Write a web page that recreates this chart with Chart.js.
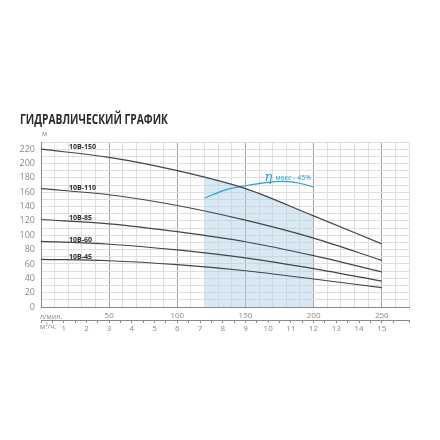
<!DOCTYPE html>
<html>
<head>
<meta charset="utf-8">
<script src="https://cdn.jsdelivr.net/npm/chart.js@4"></script>
<style>
  html, body { margin: 0; padding: 0; background: #fff; }
  #wrap { width: 440px; height: 440px; }
</style>
</head>
<body>
<div id="wrap"><canvas id="pumpChart" width="440" height="440"></canvas></div>
<script>
// flow, l/min
const flow = [0, 50, 100, 150, 200, 250];
// head, m
const head150 = [220, 208.5, 190, 165, 127, 88];
const head110 = [165, 156.5, 141.5, 121, 96, 65];
const head85 = [122, 116, 105, 91, 71.5, 49];
const head60 = [91.5, 87.5, 79.5, 68.5, 53.5, 36];
const head45 = [66.5, 64.5, 59, 50.5, 39, 27];
const pumpNames = ['10B-150', '10B-110', '10B-85', '10B-60', '10B-45'];

// working zone (under 10B-150)
const zoneFlow = [120, 150, 200];
const zoneHead = [180.5, 165, 127];

// efficiency curve, drawn on head scale
const effFlow = [120, 135, 150, 165, 178, 190, 200];
const effVal = [152, 163, 169, 173.5, 175, 172.5, 167];

const toPts = (xs, ys) => xs.map((x, i) => ({ x: x, y: ys[i] }));

const curveStyle = {
  borderColor: '#444',
  borderWidth: 1.2,
  pointRadius: 0,
  fill: false,
  cubicInterpolationMode: 'monotone',
};

const extraText = {
  id: 'extraText',
  afterDraw(chart) {
    const ctx = chart.ctx;
    const x = chart.scales.x;
    const y = chart.scales.y;
    ctx.save();
    // title
    ctx.fillStyle = '#2b2b2b';
    ctx.font = 'bold 14px "Open Sans"';
    ctx.textBaseline = 'middle';
    ctx.textAlign = 'left';
    ctx.fillText('ГИДРАВЛИЧЕСКИЙ ГРАФИК', 20, 120, 148);
    // y unit
    ctx.fillStyle = '#888';
    ctx.font = '7px "Open Sans"';
    ctx.fillText('м', 42, 134);
    // axis units
    ctx.fillText('л/мин.', 40, 317);
    ctx.fillText('м³/ч.', 40, 327);
    // curve labels
    ctx.fillStyle = '#2b2b2b';
    ctx.font = 'bold 7px "Open Sans"';
    const lblY = [147, 187.5, 217.5, 239.5, 256.5];
    pumpNames.forEach((n, i) => ctx.fillText(n, 69, lblY[i]));
    // efficiency label
    ctx.fillStyle = '#2a9fd6';
    ctx.font = 'italic 13px "DejaVu Serif"';
    ctx.fillText('η', x.getPixelForValue(164), y.getPixelForValue(180));
    ctx.font = '7px "Open Sans"';
    ctx.fillText('макс - 45%', x.getPixelForValue(172), y.getPixelForValue(180.5), 36);
    ctx.restore();
  }
};

new Chart(document.getElementById('pumpChart'), {
  type: 'line',
  data: {
    datasets: [
      { ...curveStyle, data: toPts(flow, head150) },
      { ...curveStyle, data: toPts(flow, head110) },
      { ...curveStyle, data: toPts(flow, head85) },
      { ...curveStyle, data: toPts(flow, head60) },
      { ...curveStyle, data: toPts(flow, head45) },
      {
        data: toPts(effFlow, effVal),
        borderColor: '#2a9fd6',
        borderWidth: 1.2,
        pointRadius: 0,
        fill: false,
        cubicInterpolationMode: 'monotone',
      },
      {
        data: toPts(zoneFlow, zoneHead),
        borderWidth: 0,
        pointRadius: 0,
        backgroundColor: 'rgba(175, 208, 230, 0.48)',
        fill: 'origin',
        cubicInterpolationMode: 'monotone',
        order: 10,
      },
    ],
  },
  options: {
    responsive: false,
    animation: false,
    layout: { padding: { top: 142, right: 31, bottom: 100, left: 0 } },
    plugins: { legend: { display: false }, tooltip: { enabled: false } },
    scales: {
      x: {
        type: 'linear',
        min: 0, max: 270,
        afterFit: (s) => { s.height = 13; },
        grid: {
          drawTicks: false,
          color: (c) => (c.tick.value % 50 === 0 ? '#a0a0a0' : '#dedede'),
        },
        border: { color: '#8a8a8a' },
        ticks: {
          stepSize: 10,
          autoSkip: false,
          maxRotation: 0,
          padding: 4,
          color: '#888',
          font: { size: 8, family: 'Open Sans' },
          callback: (v) => (v % 50 === 0 && v > 0 ? String(v) : ''),
        },
      },
      x2: {
        type: 'linear',
        position: 'bottom',
        min: 0, max: 16.2,
        afterFit: (s) => { s.height = 20; },
        grid: { drawOnChartArea: false, drawTicks: true, tickLength: 3, color: '#8a8a8a' },
        border: { color: '#8a8a8a' },
        ticks: {
          stepSize: 0.5,
          autoSkip: false,
          maxRotation: 0,
          padding: 1,
          color: '#888',
          font: { size: 8, family: 'Open Sans' },
          callback: (v) => (Number.isInteger(v) && v > 0 ? String(v) : ''),
        },
      },
      y: {
        min: 0, max: 230,
        afterFit: (s) => { s.width = 41; },
        grid: { drawTicks: false, color: '#dedede' },
        border: { color: '#8a8a8a' },
        ticks: {
          stepSize: 10,
          autoSkip: false,
          padding: 6,
          color: '#888',
          font: { size: 9, family: 'Open Sans' },
          callback: (v) => (v % 20 === 0 ? String(v) : ''),
        },
      },
    },
  },
  plugins: [extraText],
});
</script>
</body>
</html>
